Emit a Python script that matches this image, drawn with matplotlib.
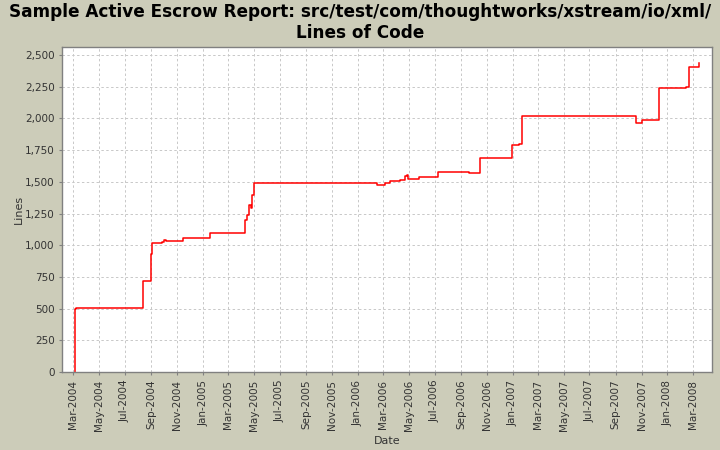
import matplotlib

matplotlib.use("Agg")
import matplotlib.dates as mdates
import matplotlib.pyplot as plt
import matplotlib.ticker as mticker
import pandas as pd

# step points (value holds until the next date)
dates = [
    "2004-03-05", "2004-03-05", "2004-03-08", "2004-08-13", "2004-09-01",
    "2004-09-03", "2004-09-27", "2004-10-01", "2004-10-06", "2004-11-15",
    "2005-01-18", "2005-04-09", "2005-04-15", "2005-04-19", "2005-04-25",
    "2005-04-27", "2005-04-30", "2006-02-14", "2006-03-06", "2006-03-18",
    "2006-04-11", "2006-04-21", "2006-04-27", "2006-04-29", "2006-05-24",
    "2006-07-08", "2006-09-20", "2006-10-17", "2006-12-31", "2007-01-16",
    "2007-01-22", "2007-10-18", "2007-11-03", "2007-12-11", "2008-02-13",
    "2008-02-21", "2008-03-16",
]
lines = [
    0, 494, 507, 715, 928,
    1015, 1028, 1039, 1033, 1054,
    1096, 1196, 1240, 1317, 1291,
    1393, 1488, 1475, 1490, 1504,
    1511, 1543, 1553, 1522, 1535,
    1575, 1567, 1685, 1788, 1796,
    2018, 1964, 1987, 2240, 2245,
    2403, 2434,
]

title = "Sample Active Escrow Report: src/test/com/thoughtworks/xstream/io/xml/\nLines of Code"

bg = "#CCCCB9"
fig = plt.figure(figsize=(7.2, 4.5), dpi=100, facecolor=bg)
ax = fig.add_axes([0.0865, 0.1733, 0.9024, 0.7216])
ax.set_facecolor("white")

x = pd.to_datetime(dates)
ax.plot(x, lines, drawstyle="steps-post", color="#FF0000", linewidth=1.1)

ax.set_xlim(pd.Timestamp("2004-02-04"), pd.Timestamp("2008-04-15"))
ax.set_ylim(0, 2561)

ax.xaxis.set_major_locator(mdates.MonthLocator(bymonth=[1, 3, 5, 7, 9, 11]))
ax.xaxis.set_major_formatter(mdates.DateFormatter("%b-%Y"))
ax.yaxis.set_major_locator(mticker.MultipleLocator(250))
ax.yaxis.set_major_formatter(mticker.FuncFormatter(lambda v, _: f"{int(v):,}"))

for label in ax.get_xticklabels():
    label.set_rotation(90)
ax.tick_params(axis="both", labelsize=7.5, colors="#808080", length=2, width=0.8, labelcolor="#333333")

ax.grid(True, color="#C8C8C8", linestyle=(0, (2.5, 2.5)), linewidth=0.7)
for spine in ax.spines.values():
    spine.set_color("#808080")
    spine.set_linewidth(1.0)

ax.set_xlabel("Date", fontsize=8, color="#333333", labelpad=4)
ax.set_ylabel("Lines", fontsize=8, color="#333333", labelpad=1)

fig.text(0.5, 0.993, title, ha="center", va="top", fontsize=12.2, fontweight="bold",
         linespacing=1.2, color="black")

fig.savefig("out.png", dpi=100, facecolor=bg)
